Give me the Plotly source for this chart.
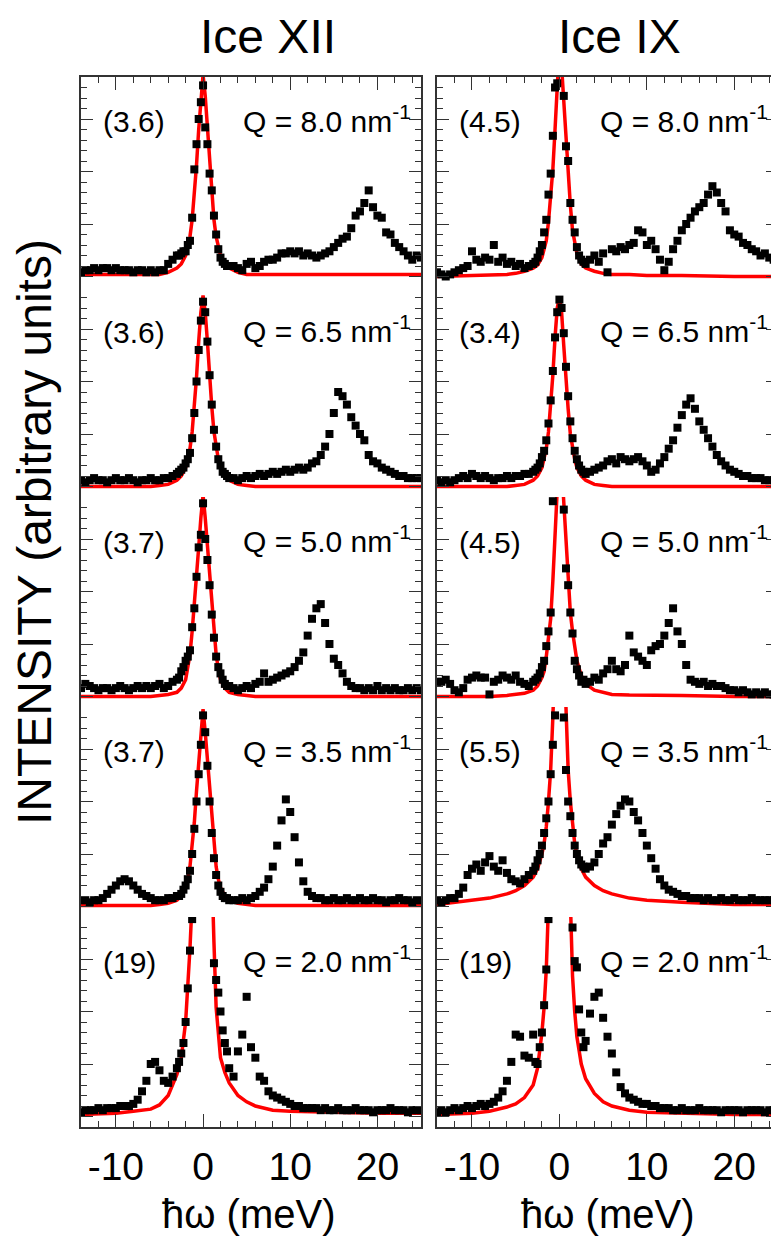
import plotly.graph_objects as go

# ---------------- data ----------------
# energy transfer grid (meV) of the measured points
E_low = [-14, -13.5, -13, -12.5, -12, -11.5, -11, -10.5, -10, -9.5, -9, -8.5,
         -8, -7.5, -7, -6.5, -6, -5.5, -5, -4.5, -4, -3.5, -3]
E_mid = [-2.75, -2.5, -2.25, -2, -1.75, -1.5, -1.25, -1, -0.75, -0.5, -0.25, 0,
         0.25, 0.5, 0.75, 1, 1.25, 1.5, 1.75, 2, 2.25, 2.5, 2.75]
E_high = [3, 3.5, 4, 4.5, 5, 5.5, 6, 6.5, 7, 7.5, 8, 8.5, 9, 9.5, 10, 10.5, 11,
          11.5, 12, 12.5, 13, 13.5, 14, 14.5, 15, 15.5, 16, 16.5, 17, 17.5, 18,
          18.5, 19, 19.5, 20, 20.5, 21, 21.5, 22, 22.5, 23, 23.5, 24, 24.5, 25]
E = E_low + E_mid + E_high

# energy grid of the fitted elastic lines
FIT_E = [-14, -10, -8, -6, -5, -4, -3, -2.5, -2, -1.75, -1.5, -1.25, -1, -0.75,
         -0.5, -0.25, 0, 0.25, 0.5, 0.75, 1, 1.25, 1.5, 1.75, 2, 2.5, 3, 4, 5,
         6, 8, 10, 14, 20, 25]

X_TICKS = [-10, 0, 10, 20]
X_TICK_TEXT = ["-10", "0", "10", "20"]

# ---- Ice XII measured intensities ----
xii_80 = [7, 8, 8, 9, 8, 9, 9, 8, 9, 8, 8, 8, 7, 8, 8, 7, 8, 7, 8, 8, 11, 13, 15,
          15, 16, 17, 17, 20, 22, 33, 56, 68, 80, 88, 96, 76, 68, 54, 46, 34, 25, 18, 14, 12, 11, 10,
          10, 10, 9, 8, 11, 12, 9, 10, 12, 13,
          13, 14, 16, 16, 17, 16, 17, 15, 16, 15,
          14, 15, 16, 17, 19, 21, 23, 24, 28, 34,
          36, 40, 46, 38, 34, 33, 26, 25, 21, 19,
          17, 15, 13, 15, 14]
xii_65 = [8, 7, 8, 9, 8, 8, 7, 8, 9, 8, 8, 9, 8, 7, 8, 8, 9, 8, 8, 9, 9, 10, 11,
          12, 13, 14, 16, 18, 21, 28, 40, 55, 70, 84, 93, 88, 74, 58, 44, 32, 24, 18, 15, 12, 11, 10,
          9, 9, 8, 9, 10, 9, 10, 11, 10, 11,
          12, 11, 12, 13, 12, 13, 14, 13, 14, 16,
          17, 20, 24, 30, 40, 50, 48, 44, 38, 34,
          30, 27, 20, 17, 16, 14, 13, 12, 11, 10,
          10, 9, 9, 9, 9]
xii_50 = [9, 11, 10, 9, 8, 9, 9, 8, 9, 10, 9, 8, 9, 10, 9, 10, 9, 10, 11, 9, 10, 12, 13,
          14, 17, 19, 22, 24, 27, 38, 47, 62, 76, 82, 97, 80, 70, 58, 44, 33, 24, 19, 16, 13, 11, 10,
          10, 9, 8, 9, 10, 9, 11, 12, 16, 12,
          13, 14, 15, 16, 17, 19, 22, 26, 34, 42,
          47, 49, 40, 30, 23, 20, 16, 12, 10, 9,
          9, 8, 9, 8, 10, 8, 9, 8, 9, 8,
          8, 9, 8, 9, 8]
xii_35 = [8, 8, 7, 8, 8, 9, 11, 13, 15, 17, 18, 17, 15, 13, 11, 10, 9, 8, 8, 8, 9, 9, 10,
          10, 11, 13, 15, 18, 22, 30, 42, 55, 68, 82, 96, 88, 72, 55, 40, 28, 20, 15, 12, 10, 9, 9,
          8, 8, 8, 9, 8, 9, 10, 12, 14, 18,
          24, 34, 46, 56, 50, 38, 26, 17, 12, 10,
          9, 9, 8, 8, 9, 8, 8, 9, 8, 8,
          9, 8, 8, 9, 8, 8, 7, 8, 8, 9,
          8, 8, 7, 8, 8]
xii_20 = [7, 8, 8, 8, 9, 8, 9, 9, 9, 10, 10, 10, 11, 13, 17, 22, 30, 31, 27, 22, 21, 24, 28,
          31, 35, 40, 50, 66, 84, 99, 110, 120, 130, 130, 130, 130, 130, 125, 115, 78, 70, 64, 55, 46, 40, 36,
          28, 24, 36, 44, 62, 38, 33, 24, 22, 17,
          15, 14, 13, 12, 11, 10, 10, 9, 9, 9,
          9, 8, 9, 8, 8, 9, 8, 8, 8, 9,
          8, 8, 8, 7, 8, 8, 8, 9, 8, 8,
          8, 7, 8, 8, 8]

# ---- Ice IX measured intensities ----
ix_80 = [7, 6, 5, 6, 7, 8, 9, 10, 17, 13, 12, 14, 13, 20, 12, 14, 11, 12, 10, 11, 9, 10, 11,
         12, 14, 17, 20, 26, 32, 44, 54, 72, 95, 97, 115, 110, 91, 67, 60, 40, 32, 26, 19, 15, 13, 12,
         11, 13, 15, 12, 16, 7, 18, 17, 19, 18,
         20, 21, 27, 26, 20, 22, 18, 13, 8, 12,
         18, 22, 27, 30, 33, 36, 38, 40, 44, 48,
         45, 40, 36, 27, 25, 24, 21, 20, 18, 17,
         15, 16, 14, 13, 12]
ix_65 = [8, 7, 8, 7, 8, 9, 10, 9, 11, 10, 9, 10, 9, 8, 9, 9, 10, 9, 10, 10, 11, 11, 12,
         13, 14, 16, 19, 22, 27, 35, 46, 60, 76, 88, 94, 90, 78, 62, 48, 36, 28, 22, 18, 15, 13, 12,
         11, 12, 13, 14, 15, 17, 18, 16, 19, 18,
         17, 18, 19, 17, 15, 12, 13, 16, 19, 23,
         27, 33, 39, 44, 47, 42, 36, 32, 28, 24,
         20, 17, 15, 13, 12, 11, 10, 10, 9, 9,
         9, 8, 8, 8, 8]
ix_50 = [12, 12, 13, 11, 8, 7, 9, 13, 14, 15, 14, 14, 6, 12, 13, 15, 14, 13, 15, 12, 11, 10, 12,
         13, 14, 16, 19, 22, 29, 36, 45, 98, 110, 115, 115, 105, 94, 66, 58, 45, 35, 22, 18, 15, 12, 13,
         11, 12, 14, 13, 16, 18, 22, 18, 17, 20,
         34, 26, 24, 22, 20, 27, 29, 30, 34, 40,
         47, 36, 30, 20, 13, 12, 11, 12, 10, 11,
         10, 10, 9, 8, 8, 7, 8, 7, 6, 7,
         6, 7, 6, 6, 7]
ix_35 = [8, 7, 8, 9, 9, 11, 14, 20, 23, 25, 22, 26, 29, 24, 22, 27, 21, 18, 17, 16, 18, 20, 22,
         24, 27, 30, 34, 40, 47, 55, 68, 82, 96, 120, 130, 120, 95, 70, 55, 48, 40, 34, 30, 27, 25, 24,
         23, 24, 26, 30, 35, 38, 44, 49, 53, 56,
         55, 50, 46, 40, 34, 28, 23, 18, 15, 13,
         12, 11, 10, 10, 9, 9, 9, 8, 9, 8,
         8, 9, 8, 8, 9, 8, 8, 8, 9, 8,
         8, 8, 8, 8, 8]
ix_20 = [7, 8, 7, 8, 9, 8, 9, 10, 9, 10, 11, 10, 11, 12, 14, 17, 22, 31, 44, 43, 34, 33, 44,
         31, 30, 38, 45, 58, 75, 99, 120, 140, 150, 150, 150, 150, 150, 140, 120, 105, 95, 79, 76, 56, 45, 38,
         41, 54, 62, 64, 52, 43, 35, 26, 19, 16,
         14, 13, 12, 11, 11, 10, 10, 9, 9, 9,
         8, 8, 9, 8, 8, 8, 9, 8, 8, 8,
         8, 7, 8, 8, 8, 8, 7, 8, 8, 8,
         8, 7, 8, 8, 8]

# ---- fitted elastic lines (red) ----
fit_xii_80 = [6, 6, 6, 6, 6, 7, 9, 11, 15, 19, 24, 32, 44, 58, 75, 91, 101, 91, 75, 58,
              44, 32, 24, 19, 15, 11, 9, 7, 6, 6, 6, 6, 6, 6, 6]
fit_xii_65 = [5, 5, 5, 5, 5.5, 6, 8, 10, 14, 18, 23, 31, 43, 57, 74, 88, 96, 88, 74, 57,
              43, 31, 23, 18, 14, 10, 8, 6, 5.5, 5, 5, 5, 5, 5, 5]
fit_xii_50 = [5, 5, 5, 5, 5.5, 6, 7, 9, 13, 18, 25, 36, 48, 62, 76, 90, 101, 90, 76, 62,
              48, 36, 25, 18, 13, 9, 7, 6, 5.5, 5, 5, 5, 5, 5, 5]
fit_xii_35 = [5.5, 5.5, 5.5, 5.5, 6, 6.5, 8, 10, 14, 18, 24, 33, 45, 60, 75, 88, 99, 88, 75, 60,
              45, 33, 24, 18, 14, 10, 8, 6.5, 6, 5.5, 5.5, 5.5, 5.5, 5.5, 5.5]
fit_xii_20 = [6, 6.5, 7.5, 8.5, 10.5, 15, 25, 33, 50, 66, 85, 108, 140, 180, 230, 260, 270, 250, 210, 160,
              120, 88, 57, 43, 33, 26, 21, 15, 12, 10, 8, 7.5, 7, 6.5, 6.5]
fit_ix_80 = [5, 5.5, 5.5, 6, 6.5, 7.5, 9, 10.5, 14, 18, 22, 31, 42, 56, 75, 100, 115, 105, 88, 67,
             50, 39, 27, 21, 16, 11, 9, 7.5, 6.5, 6, 6, 5.5, 5.5, 5, 5]
fit_ix_65 = [5, 5, 5, 5, 5.5, 6, 8, 10, 14, 18, 23, 31, 43, 58, 76, 90, 95, 88, 72, 55,
             42, 30, 23, 18, 14, 10, 8, 6, 5.5, 5, 5, 5, 5, 5, 5]
fit_ix_50 = [5, 5, 5, 5.5, 6, 6.5, 8, 10, 14, 17, 24, 32, 42, 60, 90, 115, 125, 115, 98, 75,
             58, 45, 36, 28, 22, 15, 11, 8, 7, 6, 5.7, 5.5, 5.5, 5, 5]
fit_ix_35 = [6, 8, 9, 11, 12.5, 15, 19, 23, 30, 35, 43, 55, 70, 95, 130, 170, 190, 170, 130, 95,
             70, 55, 43, 35, 30, 23, 19, 15, 12.5, 11, 9, 8, 7, 6, 6]
fit_ix_20 = [6, 6.5, 7.5, 9.5, 11, 14, 20, 28, 45, 57, 75, 100, 130, 170, 220, 250, 260, 250, 220, 180,
             140, 110, 72, 55, 43, 30, 23, 16, 12, 10, 8, 7, 6.5, 6, 6]

Q_labels = ["Q = 8.0 nm<sup>-1</sup>", "Q = 6.5 nm<sup>-1</sup>", "Q = 5.0 nm<sup>-1</sup>",
            "Q = 3.5 nm<sup>-1</sup>", "Q = 2.0 nm<sup>-1</sup>"]
scale_xii = ["(3.6)", "(3.6)", "(3.7)", "(3.7)", "(19)"]
scale_ix = ["(4.5)", "(3.4)", "(4.5)", "(5.5)", "(19)"]
columns = ["Ice XII", "Ice IX"]

data_cols = [[xii_80, xii_65, xii_50, xii_35, xii_20], [ix_80, ix_65, ix_50, ix_35, ix_20]]
fit_cols = [[fit_xii_80, fit_xii_65, fit_xii_50, fit_xii_35, fit_xii_20],
            [fit_ix_80, fit_ix_65, fit_ix_50, fit_ix_35, fit_ix_20]]
scale_cols = [scale_xii, scale_ix]

# ---------------- layout ----------------
# the page puts the figure 8 px from the top-left corner, so the figure is
# 8 px smaller and every reference pixel position is converted accordingly
OFF = 8
W, H = 779 - OFF, 1236 - OFF
ML, MR, MT, MB = 81 - OFF, 1, 77 - OFF, 109
PW, PH = W - ML - MR, H - MT - MB
FONT = "Arial, Liberation Sans, Helvetica, sans-serif"
AX = "#333333"


def px(x):  # reference pixel x -> paper x
    return (x - 81) / PW


def py(y):  # reference pixel y -> paper y
    return (1127 - y) / PH


col_px = [(81, 421), (437, 778)]
row_px = [(77 + 210 * k, 287 + 210 * k) for k in range(5)]

fig = go.Figure()
layout = dict(
    width=W, height=H, margin=dict(l=ML, r=MR, t=MT, b=MB, autoexpand=False),
    paper_bgcolor="white", plot_bgcolor="white", showlegend=False,
    font=dict(family=FONT, color="black"),
)
annotations = []

for c in range(2):
    for r in range(5):
        i = c * 5 + r + 1
        xs = "x" if i == 1 else f"x{i}"
        ys = "y" if i == 1 else f"y{i}"
        fig.add_trace(go.Scatter(x=FIT_E, y=fit_cols[c][r], mode="lines",
                                 line=dict(color="#ff0000", width=3.5),
                                 xaxis=xs, yaxis=ys, hoverinfo="skip"))
        fig.add_trace(go.Scatter(x=E, y=data_cols[c][r], mode="markers",
                                 marker=dict(symbol="square", size=8, color="black",
                                             line=dict(width=0)),
                                 xaxis=xs, yaxis=ys))
        x0, x1 = col_px[c]
        y0, y1 = row_px[r]
        edge = r in (0, 4)
        xax = dict(domain=[px(x0), px(x1)], anchor=ys, range=[-14, 25],
                   showgrid=False, zeroline=False, fixedrange=True,
                   showline=edge, linecolor=AX, linewidth=1.5,
                   ticks="inside" if edge else "", tickmode="array",
                   tickvals=X_TICKS, ticktext=X_TICK_TEXT, ticklen=13,
                   tickwidth=1.2, tickcolor=AX,
                   minor=dict(dtick=2, tick0=0, ticks="inside" if edge else "",
                              ticklen=6, tickwidth=1.2, tickcolor=AX),
                   side="top" if r == 0 else "bottom",
                   showticklabels=(r == 4),
                   tickfont=dict(family=FONT, size=39, color="black"),
                   ticklabelstandoff=4)
        yax = dict(domain=[py(y1), py(y0)], anchor=xs, range=[0, 100],
                   showgrid=False, zeroline=False, fixedrange=True,
                   showline=True, mirror="allticks", linecolor=AX, linewidth=1.5,
                   ticks="inside", tick0=5, dtick=25, ticklen=12, tickwidth=1.2,
                   tickcolor=AX,
                   minor=dict(dtick=5, tick0=0, ticks="inside", ticklen=6,
                              tickwidth=1.2, tickcolor=AX),
                   showticklabels=False)
        layout["xaxis" if i == 1 else f"xaxis{i}"] = xax
        layout["yaxis" if i == 1 else f"yaxis{i}"] = yax
        ymid = y0 + 45
        annotations.append(dict(text=scale_cols[c][r], xref="paper", yref="paper",
                                x=px(x0 + 20), y=py(ymid), xanchor="left", yanchor="middle",
                                showarrow=False, font=dict(family=FONT, size=30, color="black")))
        annotations.append(dict(text=Q_labels[r], xref="paper", yref="paper",
                                x=px(x1 - 8), y=py(ymid - 3), xanchor="right", yanchor="middle",
                                showarrow=False, font=dict(family=FONT, size=30, color="black")))

# column titles
for name, cx in zip(columns, [268, 619]):
    annotations.append(dict(text=name, xref="paper", yref="paper", x=px(cx), y=py(36),
                            xanchor="center", yanchor="middle", showarrow=False,
                            font=dict(family=FONT, size=48, color="black")))
# x-axis titles
for cx in [248, 607]:
    annotations.append(dict(text="ħω (meV)", xref="paper", yref="paper", x=px(cx), y=py(1214),
                            xanchor="center", yanchor="middle", showarrow=False,
                            font=dict(family=FONT, size=40, color="black")))
# y-axis title
annotations.append(dict(text="INTENSITY (arbitrary units)", xref="paper", yref="paper",
                        x=px(34), y=py(532), xanchor="center", yanchor="middle",
                        textangle=-90, showarrow=False,
                        font=dict(family=FONT, size=48, color="black")))

layout["annotations"] = annotations
fig.update_layout(**layout)
fig.write_html("out.html")
